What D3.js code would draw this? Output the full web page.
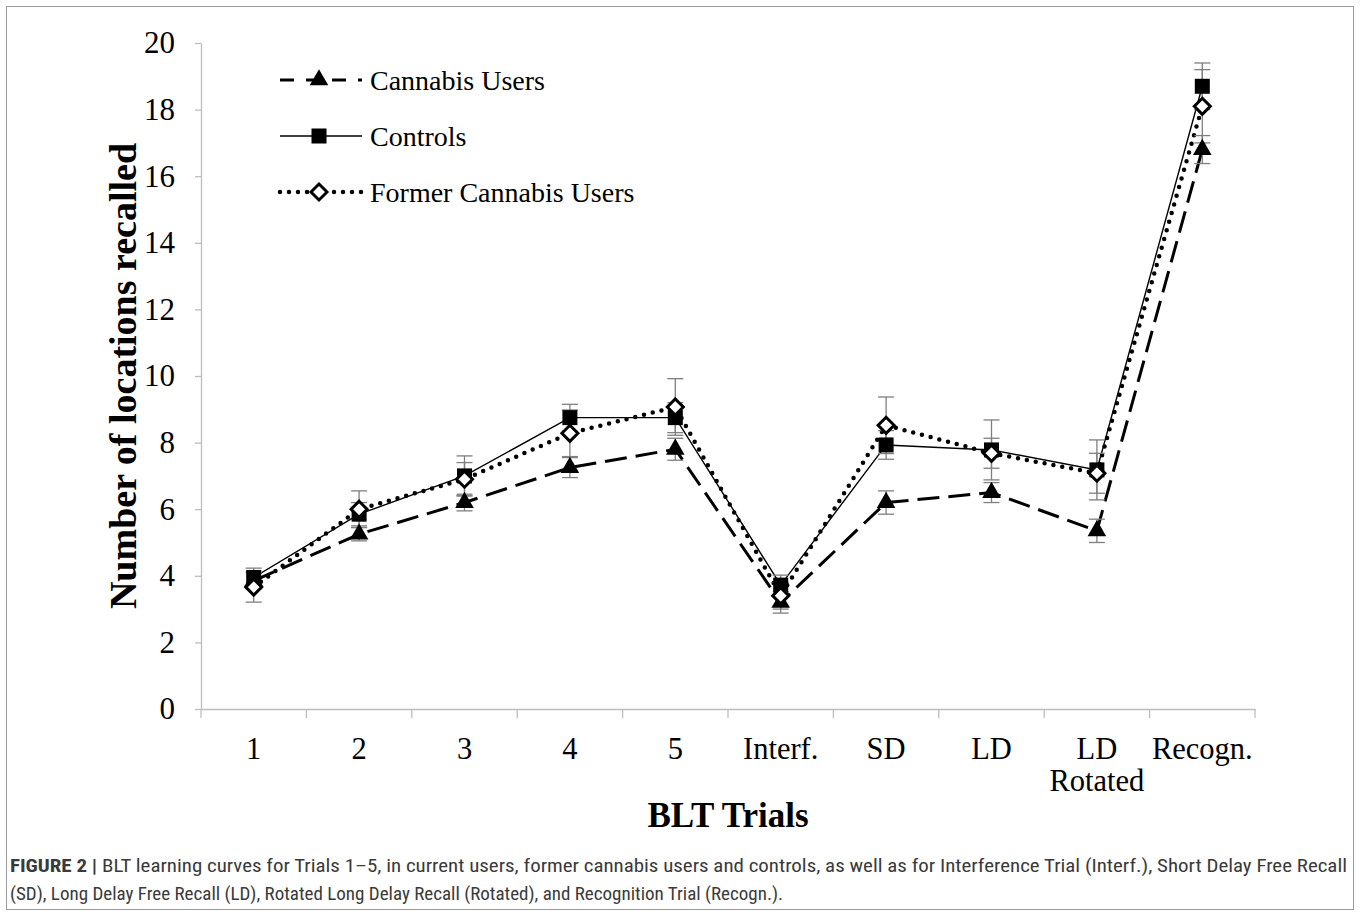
<!DOCTYPE html>
<html>
<head>
<meta charset="utf-8">
<script src="https://cdn.jsdelivr.net/npm/d3@7"></script>
<style>
  body { margin: 0; background: #fff; }
  svg { display: block; }
</style>
</head>
<body>
<div class="chart"></div>
<script>
const trials = ["1", "2", "3", "4", "5", "Interf.", "SD", "LD", "LD Rotated", "Recogn."]
const yTicks = [0, 2, 4, 6, 8, 10, 12, 14, 16, 18, 20]

// means
const cannabis = [3.85, 5.25, 6.2, 7.25, 7.8, 3.2, 6.2, 6.5, 5.35, 16.8]
const controls = [3.95, 5.85, 7.0, 8.75, 8.75, 3.72, 7.93, 7.78, 7.18, 18.7]
const former = [3.66, 6.0, 6.9, 8.28, 9.07, 3.4, 8.52, 7.68, 7.08, 18.1]

// error bar half-widths
const cannabisErr = [0.25, 0.2, 0.25, 0.3, 0.33, 0.32, 0.35, 0.3, 0.35, 0.42]
const controlsErr = [0.28, 0.35, 0.6, 0.4, 0.45, 0.3, 0.43, 0.9, 0.9, 0.7]
const formerErr = [0.45, 0.55, 0.5, 0.7, 0.85, 0.4, 0.85, 0.45, 0.6, 1.1]

const legendNames = ["Cannabis Users", "Controls", "Former Cannabis Users"]

const W = 1360, H = 916
const margin = { top: 43, left: 201, right: 105, bottom: 207 }
const width = W - margin.left - margin.right
const height = H - margin.top - margin.bottom

const svg = d3.select('.chart').append('svg')
  .attr('width', W).attr('height', H)

// frame around figure + caption
svg.append('rect')
  .attr('x', 6.5).attr('y', 6.5)
  .attr('width', W - 13).attr('height', H - 13)
  .attr('fill', 'none').attr('stroke', '#9a9a9a').attr('stroke-width', 1)

const g = svg.append('g').attr('transform', `translate(${margin.left},${margin.top})`)

const x = d3.scaleBand().domain(trials).range([0, width]).padding(0)
const y = d3.scaleLinear().domain([0, 20]).range([height, 0])
const cx = d => x(d) + x.bandwidth() / 2

const serif = '"Liberation Serif", "Times New Roman", serif'
const axisGray = '#bdbdbd'

// y axis
const yAxis = g.append('g')
  .call(d3.axisLeft(y).tickValues(yTicks).tickSize(6).tickPadding(20).tickSizeOuter(0))
yAxis.select('.domain').attr('stroke', axisGray).attr('stroke-width', 1.3)
yAxis.selectAll('.tick line').attr('stroke', axisGray).attr('stroke-width', 1.3)
yAxis.selectAll('.tick text')
  .attr('font-family', serif).attr('font-size', 31).attr('fill', '#000')

// x axis
const xAxis = g.append('g').attr('transform', `translate(0,${height})`)
  .call(d3.axisBottom(x).tickSize(0).tickPadding(26).tickSizeOuter(0).tickFormat(''))
xAxis.select('.domain').attr('stroke', axisGray).attr('stroke-width', 1.3)

// boundary ticks between categories
const bounds = trials.map(t => x(t)).concat([x(trials[trials.length - 1]) + x.bandwidth()])
xAxis.selectAll('.bound').data(bounds).enter().append('line')
  .attr('x1', d => d).attr('x2', d => d).attr('y1', 0).attr('y2', 9)
  .attr('stroke', axisGray).attr('stroke-width', 1.3)

const xLab = xAxis.selectAll('.xlab').data(trials).enter().append('text')
  .attr('x', d => cx(d)).attr('y', 50)
  .attr('text-anchor', 'middle')
  .attr('font-family', serif).attr('font-size', 30.5).attr('fill', '#000')
xLab.each(function (d) {
  const parts = d === "LD Rotated" ? ["LD", "Rotated"] : [d]
  parts.forEach((p, i) => {
    d3.select(this).append('tspan').attr('x', cx(d)).attr('dy', i === 0 ? 0 : 32).text(p)
  })
})

// axis titles
svg.append('text')
  .attr('transform', `translate(136,${margin.top + height / 2}) rotate(-90)`)
  .attr('text-anchor', 'middle')
  .attr('font-family', serif).attr('font-weight', 'bold').attr('font-size', 38)
  .text('Number of locations recalled')

svg.append('text')
  .attr('x', margin.left + width / 2).attr('y', 827)
  .attr('text-anchor', 'middle')
  .attr('font-family', serif).attr('font-weight', 'bold').attr('font-size', 35)
  .text('BLT Trials')

// series
const series = [
  { name: legendNames[0], vals: cannabis, err: cannabisErr, dash: '22,9', sw: 3, cap: 'butt', marker: 'triangle' },
  { name: legendNames[1], vals: controls, err: controlsErr, dash: null, sw: 1.4, cap: 'butt', marker: 'square' },
  { name: legendNames[2], vals: former, err: formerErr, dash: '0,9', sw: 4.5, cap: 'round', marker: 'diamond' }
]

const line = d3.line().x((d, i) => cx(trials[i])).y(d => y(d))

const drawMarker = (sel, type) => {
  if (type === 'triangle') {
    sel.append('path').attr('d', d3.symbol(d3.symbolTriangle, 150)()).attr('fill', '#000')
  } else if (type === 'square') {
    sel.append('rect').attr('x', -7.5).attr('y', -7.5).attr('width', 15).attr('height', 15).attr('fill', '#000')
  } else {
    sel.append('path').attr('d', 'M0,-8L8,0L0,8L-8,0Z')
      .attr('fill', '#fff').attr('stroke', '#000').attr('stroke-width', 3)
  }
}

series.forEach(s => {
  g.append('path')
    .attr('d', line(s.vals))
    .attr('fill', 'none').attr('stroke', '#000')
    .attr('stroke-width', s.sw)
    .attr('stroke-dasharray', s.dash)
    .attr('stroke-linecap', s.cap)
})

series.forEach(s => {
  const eb = g.append('g')
  s.vals.forEach((v, i) => {
    const xx = cx(trials[i])
    eb.append('line').attr('x1', xx).attr('x2', xx)
      .attr('y1', y(v - s.err[i])).attr('y2', y(v + s.err[i]))
      .attr('stroke', '#7f7f7f').attr('stroke-width', 1.3)
    ;[v - s.err[i], v + s.err[i]].forEach(e => {
      eb.append('line').attr('x1', xx - 8).attr('x2', xx + 8)
        .attr('y1', y(e)).attr('y2', y(e))
        .attr('stroke', '#7f7f7f').attr('stroke-width', 1.3)
    })
  })
})

series.forEach(s => {
  s.vals.forEach((v, i) => {
    const m = g.append('g').attr('transform', `translate(${cx(trials[i])},${y(v)})`)
    drawMarker(m, s.marker)
  })
})

// legend
const leg = svg.append('g').attr('transform', 'translate(280,80)')
series.forEach((s, i) => {
  const row = leg.append('g').attr('transform', `translate(0,${i * 56})`)
  row.append('line').attr('x1', 0).attr('x2', 82).attr('y1', 0).attr('y2', 0)
    .attr('stroke', '#000').attr('stroke-width', s.sw)
    .attr('stroke-dasharray', s.dash === '22,9' ? '14,12' : s.dash)
    .attr('stroke-linecap', s.cap)
  const m = row.append('g').attr('transform', 'translate(39,0)')
  drawMarker(m, s.marker)
  row.append('text').attr('x', 90).attr('y', 10)
    .attr('font-family', serif).attr('font-size', 28)
    .text(s.name)
})

// caption
const capFont = '"Liberation Sans Narrow", "Roboto Condensed", "Liberation Sans", Arial, sans-serif'
const cap1 = svg.append('text').attr('x', 10).attr('y', 872)
  .attr('font-family', capFont).attr('font-size', 19).attr('fill', '#3a3a3a')
  .attr('textLength', 1337).attr('lengthAdjust', 'spacingAndGlyphs')
cap1.append('tspan').attr('font-weight', 'bold').text('FIGURE 2 | ')
cap1.append('tspan').text('BLT learning curves for Trials 1–5, in current users, former cannabis users and controls, as well as for Interference Trial (Interf.), Short Delay Free Recall')

svg.append('text').attr('x', 10).attr('y', 900)
  .attr('font-family', capFont).attr('font-size', 19).attr('fill', '#3a3a3a')
  .attr('textLength', 773).attr('lengthAdjust', 'spacingAndGlyphs')
  .text('(SD), Long Delay Free Recall (LD), Rotated Long Delay Recall (Rotated), and Recognition Trial (Recogn.).')
</script>
</body>
</html>
